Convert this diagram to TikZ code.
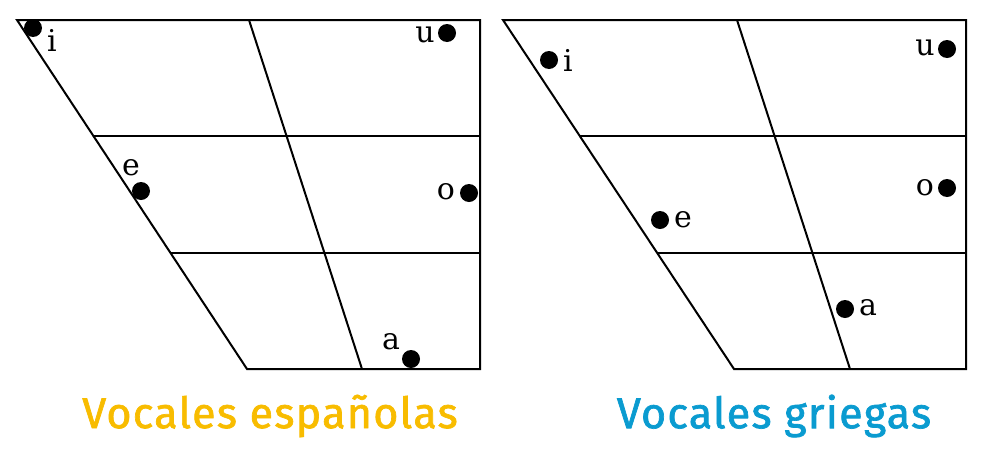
\documentclass[tikz,border=0pt]{standalone}
\usepackage{fontspec}
\setmainfont{DejaVu Serif}
\newfontfamily\titlefont[FakeBold=1.6,LetterSpace=3]{Fira Sans}
\definecolor{esp}{HTML}{F8BC00}
\definecolor{gri}{HTML}{0A9BD0}
\tikzset{
  chart/.style={line width=2pt, line join=miter},
  vdot/.style={circle, fill=black, inner sep=0pt, minimum size=18pt},
  vlab/.style={inner sep=0pt, font=\fontsize{30}{30}\selectfont},
  title/.style={inner sep=0pt, font=\titlefont\fontsize{43}{43}\selectfont}
}
\begin{document}
\begin{tikzpicture}[x=1pt,y=-1pt]
\useasboundingbox (0,0) rectangle (1000,458);
% left chart
\coordinate (LA) at (17,20);
\coordinate (LB) at (480,20);
\coordinate (LC) at (480,369);
\coordinate (LD) at (247,369);
\coordinate (LM1) at (249,20);
\coordinate (LM2) at (362,369);
\coordinate (LH1a) at (93.5,136);
\coordinate (LH1b) at (480,136);
\coordinate (LH2a) at (170.5,253);
\coordinate (LH2b) at (480,253);
\draw[chart] (LA) -- (LB) -- (LC) -- (LD) -- cycle;
\draw[chart] (LM1) -- (LM2);
\draw[chart] (LH1a) -- (LH1b);
\draw[chart] (LH2a) -- (LH2b);
% right chart
\coordinate (RA) at (503,20);
\coordinate (RB) at (966,20);
\coordinate (RC) at (966,369);
\coordinate (RD) at (734,369);
\coordinate (RM1) at (737,20);
\coordinate (RM2) at (850,369);
\coordinate (RH1a) at (579.5,136);
\coordinate (RH1b) at (966,136);
\coordinate (RH2a) at (657,253);
\coordinate (RH2b) at (966,253);
\draw[chart] (RA) -- (RB) -- (RC) -- (RD) -- cycle;
\draw[chart] (RM1) -- (RM2);
\draw[chart] (RH1a) -- (RH1b);
\draw[chart] (RH2a) -- (RH2b);
% left vowels
\node[vdot] (li) at (33,28) {};
\node[vlab] (lit) at (52,40) {i};
\node[vdot] (lu) at (447,33) {};
\node[vlab] (lut) at (425,35) {u};
\node[vdot] (le) at (141,191) {};
\node[vlab] (let) at (131,168) {e};
\node[vdot] (lo) at (469,193) {};
\node[vlab] (lot) at (446,192) {o};
\node[vdot] (la) at (411,359) {};
\node[vlab] (lat) at (391,342) {a};
% right vowels
\node[vdot] (ri) at (549,60) {};
\node[vlab] (rit) at (568,60) {i};
\node[vdot] (ru) at (947,49) {};
\node[vlab] (rut) at (925,48) {u};
\node[vdot] (re) at (660,220) {};
\node[vlab] (ret) at (683,220) {e};
\node[vdot] (ro) at (947,188) {};
\node[vlab] (rot) at (925,188) {o};
\node[vdot] (ra) at (845,309) {};
\node[vlab] (rat) at (868,308) {a};
% titles
\node[title, text=esp] (t1) at (270,416) {Vocales españolas};
\node[title, text=gri] (t2) at (774,416) {Vocales griegas};
\end{tikzpicture}
\end{document}
